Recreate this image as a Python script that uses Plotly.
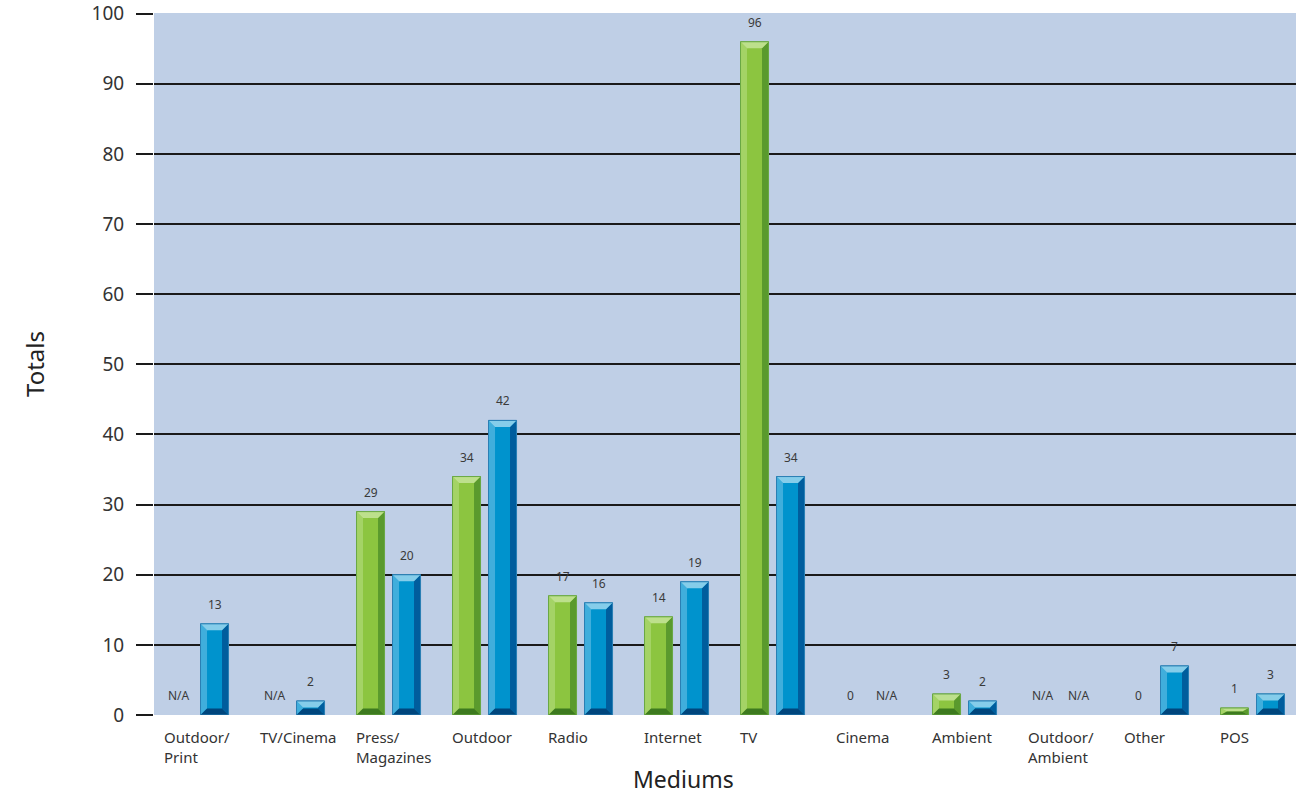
import plotly.graph_objects as go

categories = ["Outdoor/<br>Print", "TV/Cinema", "Press/<br>Magazines", "Outdoor", "Radio",
              "Internet", "TV", "Cinema", "Ambient", "Outdoor/<br>Ambient", "Other", "POS"]
series_a = [None, None, 29, 34, 17, 14, 96, 0, 3, None, 0, 1]      # green
series_b = [13, 2, 20, 42, 16, 19, 34, None, 2, None, 7, 3]        # blue
y_ticks = [0, 10, 20, 30, 40, 50, 60, 70, 80, 90, 100]

W, H = 1299, 794
ML, MR, MT, MB = 154, 3, 13, 79
XR = [-0.443, 11.453]
YR = [0, 100.1]
px_x = (W - ML - MR) / (XR[1] - XR[0])
px_y = (H - MT - MB) / (YR[1] - YR[0])

BW = 0.2917
OFF = 0.1875

styles = {
    "a": dict(main="#8cc540", top="#bde08c", left="#a4d366", right="#5a9a2d", bottom="#3d7a1f", line="#6aa845"),
    "b": dict(main="#0093cd", top="#85cdea", left="#40aedc", right="#005d9d", bottom="#00467d", line="#2a7fb4"),
}

fig = go.Figure()
shapes = []
annotations = []

def add_series(vals, off, key):
    st = styles[key]
    xs = [i + off for i in range(len(vals))]
    ys = [v if v else None for v in vals]
    fig.add_trace(go.Bar(x=xs, y=ys, width=BW, marker=dict(color=st["main"], line=dict(color=st["line"], width=1)),
                         hoverinfo="skip", showlegend=False))
    for x, v in zip(xs, vals):
        label = "N/A" if v is None else str(v)
        annotations.append(dict(x=x, y=(v or 0), xref="x", yref="y", text=label, showarrow=False,
                                yanchor="bottom", yshift=9,
                                font=dict(family="Noto Sans", size=12, color="#3a3a3a")))
        if not v:
            continue
        x0, x1 = x - BW / 2, x + BW / 2
        dx = 6.5 / px_x
        dy = min(6.5 / px_y, v / 2)
        shapes.append(dict(type="path", path=f"M {x0},0 L {x0+dx},{dy} L {x0+dx},{v-dy} L {x0},{v} Z",
                           fillcolor=st["left"], line=dict(width=0), layer="above"))
        shapes.append(dict(type="path", path=f"M {x1},0 L {x1-dx},{dy} L {x1-dx},{v-dy} L {x1},{v} Z",
                           fillcolor=st["right"], line=dict(width=0), layer="above"))
        shapes.append(dict(type="path", path=f"M {x0},{v} L {x1},{v} L {x1-dx},{v-dy} L {x0+dx},{v-dy} Z",
                           fillcolor=st["top"], line=dict(width=0), layer="above"))
        shapes.append(dict(type="path", path=f"M {x0},0 L {x1},0 L {x1-dx},{dy} L {x0+dx},{dy} Z",
                           fillcolor=st["bottom"], line=dict(width=0), layer="above"))
        shapes.append(dict(type="rect", x0=x0, x1=x1, y0=0, y1=v, xref="x", yref="y",
                           line=dict(color=st["line"], width=1), layer="above"))

add_series(series_a, -OFF, "a")
add_series(series_b, OFF, "b")

for i, c in enumerate(categories):
    annotations.append(dict(x=i - OFF - BW / 2, y=0, xref="x", yref="paper", text=c, showarrow=False,
                            xanchor="left", yanchor="top", yshift=-10, xshift=-3, align="left",
                            font=dict(family="Noto Sans", size=15, color="#333333")))

annotations.append(dict(x=0, y=0.5, xref="paper", yref="paper", text="Totals", showarrow=False,
                        textangle=-90, xanchor="center", yanchor="middle", xshift=-120,
                        font=dict(family="Noto Sans", size=24, color="#222222")))
annotations.append(dict(x=0.5, y=0, xref="paper", yref="paper", text="Mediums", showarrow=False,
                        xanchor="center", yanchor="middle", xshift=-42, yshift=-64,
                        font=dict(family="Noto Sans", size=23, color="#222222")))

fig.update_layout(
    width=W, height=H,
    margin=dict(l=ML, r=MR, t=MT, b=MB, autoexpand=False),
    paper_bgcolor="white", plot_bgcolor="#bfcfe6",
    barmode="overlay",
    shapes=shapes, annotations=annotations,
    xaxis=dict(range=XR, showgrid=False, zeroline=False, showticklabels=False, ticks="", showline=False,
               automargin=False),
    yaxis=dict(range=YR, tickvals=y_ticks, showgrid=True, gridcolor="#1a1a1a", gridwidth=1.5,
               zeroline=False, showline=False, ticks="outside", ticklen=17, tickwidth=1.5,
               tickcolor="#1a1a1a", ticklabelstandoff=8, ticklabeloverflow="allow", automargin=False,
               tickfont=dict(family="Noto Sans", size=19, color="#333333")),
)

fig.write_html("out.html")
